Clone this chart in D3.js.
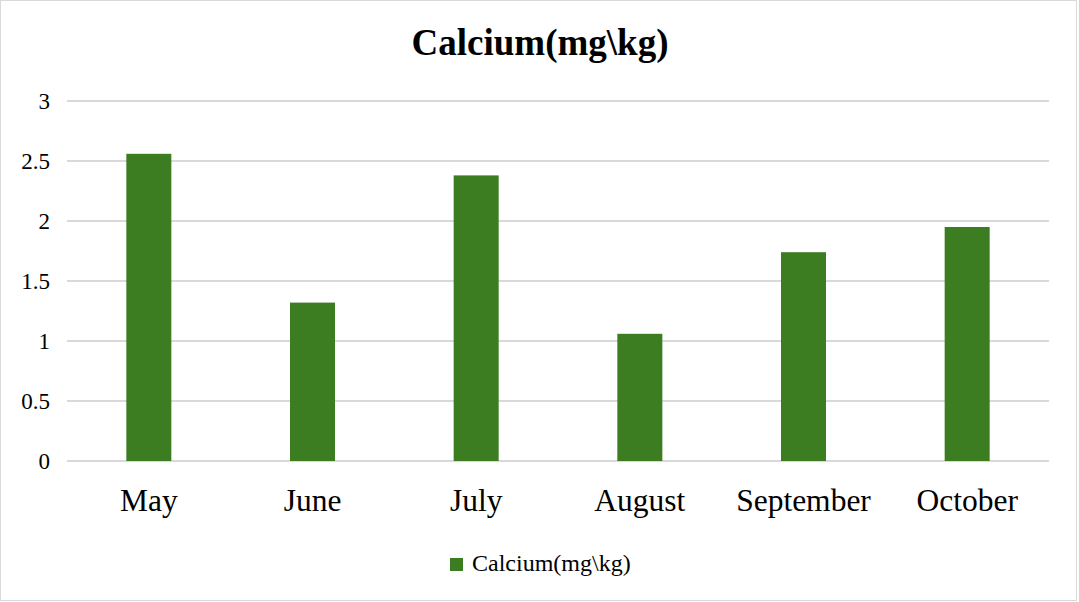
<!DOCTYPE html>
<html>
<head>
<meta charset="utf-8">
<script src="https://cdn.jsdelivr.net/npm/d3@7"></script>
<style>
  body { margin: 0; background: #fff; }
</style>
</head>
<body>
<script>
// chart values
const months = ["May", "June", "July", "August", "September", "October"];
const calcium = [2.56, 1.32, 2.38, 1.06, 1.74, 1.95];
const yTicks = [0, 0.5, 1, 1.5, 2, 2.5, 3];
const seriesName = "Calcium(mg\\kg)";

const serif = "'Liberation Serif', 'Times New Roman', serif";
const width = 1079, height = 602;
const margin = {top: 101, right: 30, bottom: 141, left: 67};

let svg = d3.select("body").append("svg")
    .attr("width", width)
    .attr("height", height)
    .attr("font-family", serif);

// outer border of the chart box
svg.append("rect")
    .attr("x", 0.5).attr("y", 0.5)
    .attr("width", width - 3).attr("height", height - 2)
    .attr("fill", "#fff")
    .attr("stroke", "#d9d9d9");

let x = d3.scaleBand().domain(months)
    .range([margin.left, width - margin.right])
    .paddingInner(0.725).paddingOuter(0.3625);
let y = d3.scaleLinear().domain([0, 3]).range([height - margin.bottom, margin.top]);

// gridlines
svg.selectAll(".grid")
    .data(yTicks)
    .enter()
    .append("line")
    .attr("class", "grid")
    .attr("x1", margin.left).attr("x2", width - margin.right)
    .attr("y1", d => y(d)).attr("y2", d => y(d))
    .attr("stroke", "#d9d9d9")
    .attr("stroke-width", 2);

// y axis labels
let yAxis = d3.axisLeft(y).tickValues(yTicks).tickSize(0).tickPadding(0).tickFormat(d3.format("~g"));
let gy = svg.append("g").attr("transform", `translate(${margin.left - 17},0)`).call(yAxis)
    .attr("font-family", serif)
    .attr("font-size", 23);
gy.select(".domain").remove();
gy.selectAll("text").attr("fill", "#000");

// bars
svg.selectAll(".bar")
    .data(calcium)
    .enter()
    .append("rect")
    .attr("class", "bar")
    .attr("x", (d, i) => x(months[i]))
    .attr("y", d => y(d))
    .attr("width", x.bandwidth())
    .attr("height", d => y(0) - y(d))
    .attr("fill", "#3c7d22");

// x axis labels
let xAxis = d3.axisBottom(x).tickSize(0).tickPadding(0);
let gx = svg.append("g").attr("transform", `translate(0,${y(0) + 28})`).call(xAxis)
    .attr("font-family", serif)
    .attr("font-size", 31.5);
gx.select(".domain").remove();
gx.selectAll("text").attr("fill", "#000");

// title
svg.append("text")
    .attr("x", 540).attr("y", 55)
    .attr("text-anchor", "middle")
    .attr("font-size", 37)
    .attr("font-weight", "bold")
    .text(seriesName);

// legend
let legend = svg.append("g").attr("transform", "translate(450,558)");
legend.append("rect")
    .attr("width", 13).attr("height", 13)
    .attr("fill", "#3c7d22");
legend.append("text")
    .attr("x", 22).attr("y", 13)
    .attr("font-size", 24)
    .text(seriesName);
</script>
</body>
</html>
